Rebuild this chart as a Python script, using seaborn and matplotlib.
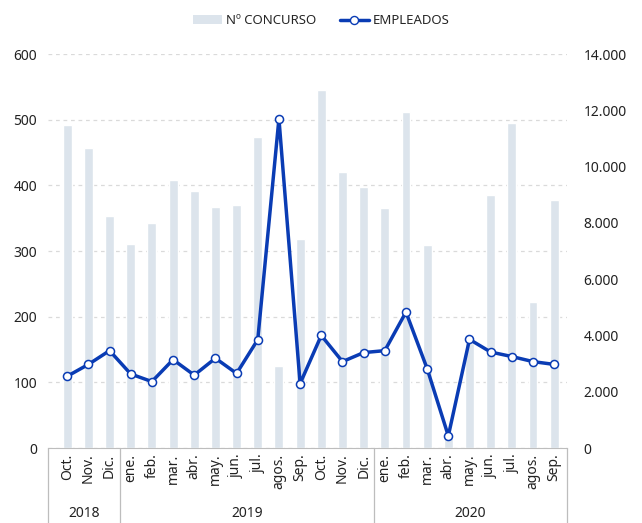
import numpy as np
import pandas as pd
import seaborn as sns
import matplotlib.pyplot as plt
from matplotlib.ticker import FuncFormatter
from matplotlib.lines import Line2D
from matplotlib.patches import Patch

# data
months = ['Oct.', 'Nov.', 'Dic.',
          'ene.', 'feb.', 'mar.', 'abr.', 'may.', 'jun.', 'jul.', 'agos.', 'Sep.', 'Oct.', 'Nov.', 'Dic.',
          'ene.', 'feb.', 'mar.', 'abr.', 'may.', 'jun.', 'jul.', 'agos.', 'Sep.']
concurso = [492, 457, 353, 311, 343, 408, 392, 367, 370, 473, 125, 319,
            545, 421, 398, 366, 512, 309, 18, 160, 386, 495, 223, 378]
empleados = [2550, 2970, 3460, 2630, 2360, 3140, 2590, 3190, 2650, 3850, 11700, 2290,
             4000, 3070, 3390, 3460, 4830, 2820, 430, 3860, 3410, 3250, 3070, 2970]
years = ['2018', '2019', '2020']
year_bounds = [-0.9, 2.5, 14.5, 23.6]

sns.set_style('white')
plt.rcParams['font.family'] = ['Noto Sans', 'DejaVu Sans']

df = pd.DataFrame({'pos': np.arange(len(months)), 'concurso': concurso, 'empleados': empleados})

bar_col = '#dce4ec'
line_col = '#0a3cb4'

fig = plt.figure(figsize=(6.42, 5.23), dpi=100)
ax = fig.add_axes([0.075, 0.1434, 0.808, 0.7533])

sns.barplot(data=df, x='pos', y='concurso', color=bar_col, width=0.42,
            native_scale=True, saturation=1, ax=ax, zorder=2)
ax.set_ylim(0, 600)
ax.set_yticks(range(0, 601, 100))
ax.set_xlim(year_bounds[0], year_bounds[-1])
ax.yaxis.grid(True, linestyle=(0, (3, 3)), color='#dadada', linewidth=0.9, zorder=0)
ax.set_axisbelow(True)
for s in ['top', 'right', 'left']:
    ax.spines[s].set_visible(False)
ax.spines['bottom'].set_color('#bdbdbd')
ax.set_xlabel('')
ax.set_ylabel('')
ax.set_xticks(range(len(months)))
ax.set_xticklabels(months, rotation=90, fontsize=10, color='#222222')
ax.tick_params(axis='x', length=0, pad=4)
ax.tick_params(axis='y', length=0, labelsize=10, labelcolor='#222222', pad=8)

ax2 = ax.twinx()
sns.lineplot(data=df, x='pos', y='empleados', color=line_col, linewidth=2.5,
             marker='o', markersize=5.8, markerfacecolor='white',
             markeredgecolor=line_col, markeredgewidth=1.1, ax=ax2, zorder=3)
ax2.set_ylim(0, 14000)
ax2.set_yticks(range(0, 14001, 2000))
ax2.yaxis.set_major_formatter(FuncFormatter(lambda v, p: f'{int(v):,}'.replace(',', '.')))
ax2.tick_params(axis='y', length=0, labelsize=10, labelcolor='#222222', pad=12)
for s in ax2.spines.values():
    s.set_visible(False)
ax2.set_ylabel('')
ax2.set_xlabel('')

# year groups under the month labels
for b in year_bounds:
    ax.plot([b, b], [0, -0.2], transform=ax.get_xaxis_transform(), color='#bdbdbd',
            linewidth=0.9, clip_on=False)
for i, y in enumerate(years):
    mid = (year_bounds[i] + year_bounds[i + 1]) / 2
    ax.text(mid, -0.165, y, transform=ax.get_xaxis_transform(), ha='center', va='center',
            fontsize=10, color='#222222')

handles = [Patch(facecolor=bar_col, edgecolor='none'),
           Line2D([0], [0], color=line_col, linewidth=2.5, marker='o', markersize=5.8,
                  markerfacecolor='white', markeredgecolor=line_col)]
fig.legend(handles, ['Nº CONCURSO', 'EMPLEADOS'], loc='upper center', bbox_to_anchor=(0.5, 0.995),
           ncol=2, frameon=False, fontsize=9.5, handlelength=2.2, columnspacing=1.8,
           handletextpad=0.3)

fig.savefig('out.png', dpi=100)
